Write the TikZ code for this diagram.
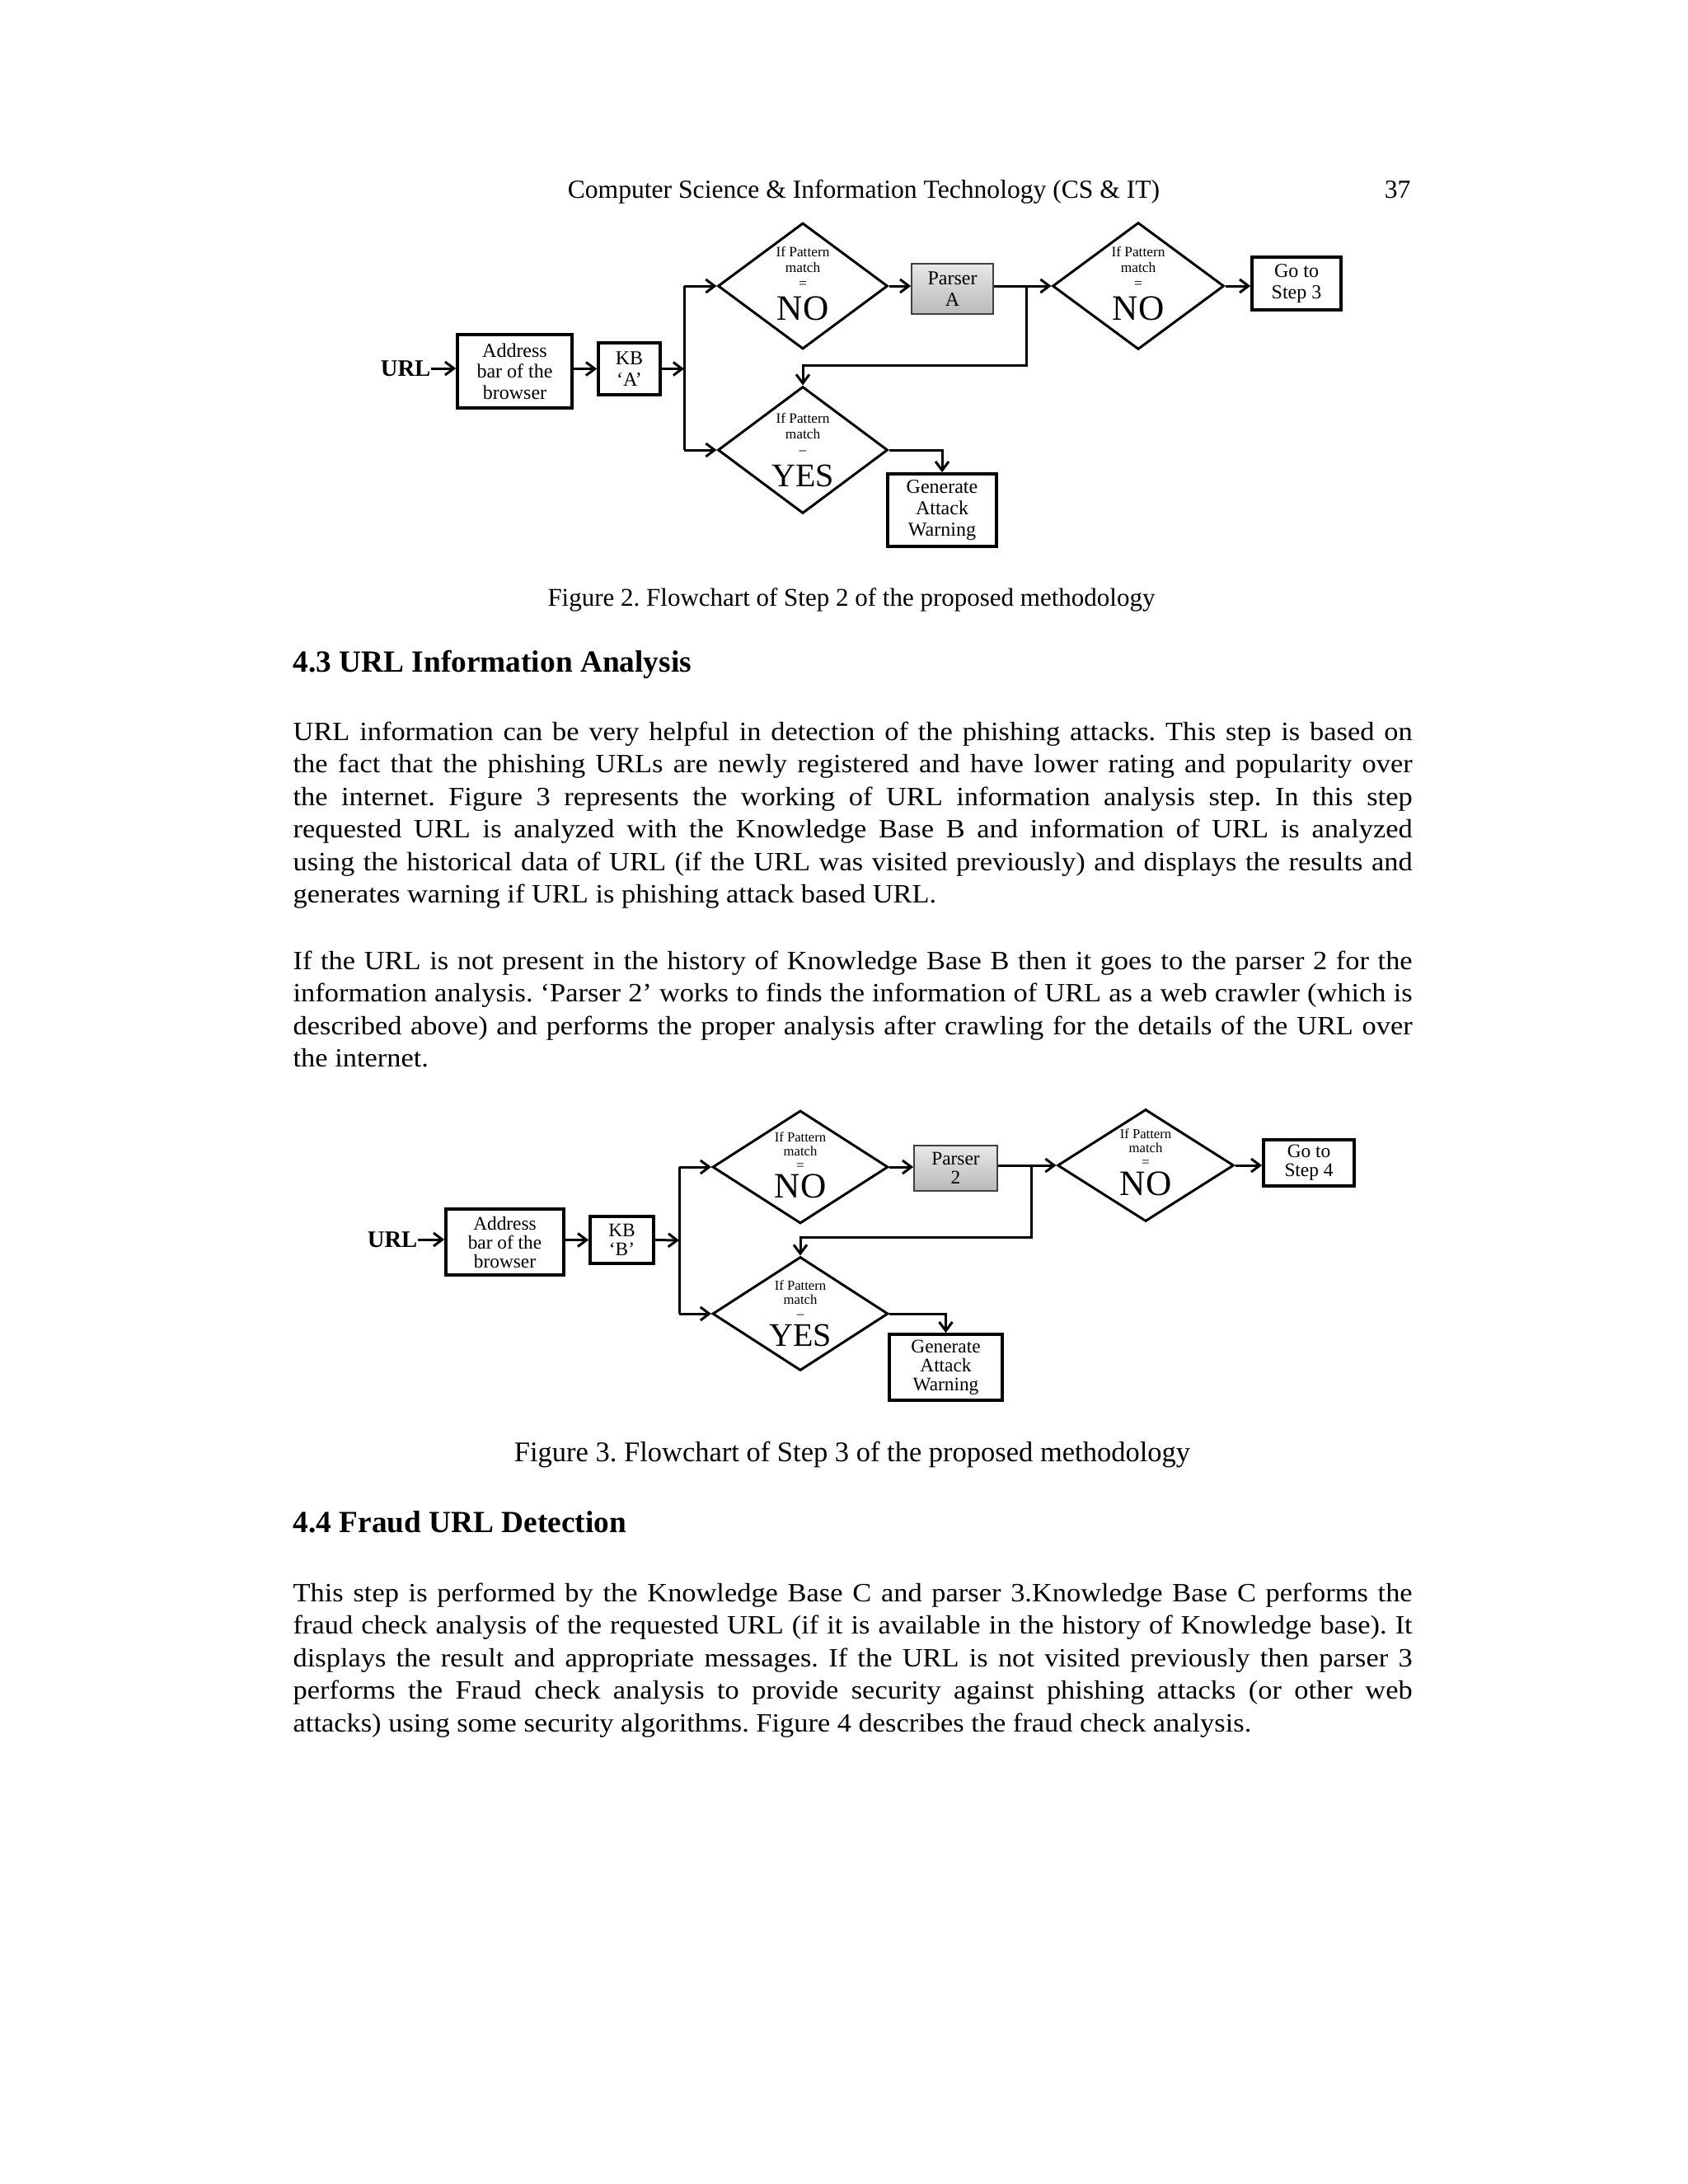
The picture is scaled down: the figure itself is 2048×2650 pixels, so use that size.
\documentclass[tikz,border=0pt]{standalone}
\usepackage{fontspec}
\setmainfont{Liberation Serif}
\newfontfamily\bodyfont{Liberation Serif}[FakeStretch=1.075]
\usetikzlibrary{shapes.geometric,arrows.meta,calc}
\begin{document}
\frenchspacing
\begin{tikzpicture}[x=0.3pt,y=-0.3pt,
  bodyline/.style={anchor=base west,inner sep=0pt,font=\bodyfont\fontsize{9.6}{11.85}\selectfont\frenchspacing},
  heading/.style={anchor=base west,inner sep=0pt,font=\bfseries\fontsize{11.2}{13}\selectfont},
  caption/.style={anchor=base,inner sep=0pt},
  boxA/.style={draw,line width=1.1pt,inner sep=0pt,align=center,font=\fontsize{7.2}{7.7}\selectfont},
  boxB/.style={draw,line width=1.1pt,inner sep=0pt,align=center,font=\fontsize{7}{6.9}\selectfont},
  parserbox/.style={draw=black!75,line width=0.5pt,top color=gray!18,bottom color=gray!55,inner sep=0pt,align=center},
  dia/.style={draw,diamond,line width=0.9pt,inner sep=0pt},
  smallA/.style={align=center,inner sep=0pt,font=\fontsize{5.2}{5.7}\selectfont},
  smallB/.style={align=center,inner sep=0pt,font=\fontsize{5}{5.1}\selectfont},
  big/.style={anchor=base,inner sep=0pt,font=\fontsize{12}{13}\selectfont},
  bigno/.style={anchor=base,inner sep=0pt,font=\fontsize{13}{14}\selectfont},
  urltext/.style={inner sep=0pt,font=\bfseries\fontsize{8.6}{9}\selectfont},
  ln/.style={line width=0.9pt},
  arr/.style={line width=0.9pt,-{Straight Barb[length=3.2pt,width=4.8pt,line width=0.9pt]}}]

\path[use as bounding box,fill=white] (0,0) rectangle (2048,2650);

% ---------- header ----------
\node[caption,font=\fontsize{9.48}{11}\selectfont] (hdr) at (1048,240) {Computer Science \& Information Technology (CS \& IT)};
\node[anchor=base east,inner sep=0pt,font=\fontsize{9.48}{11}\selectfont] (pg) at (1712,240) {37};

% ---------- Figure 2 ----------
\node[urltext,anchor=east] (url2) at (523,447) {URL};
\node[boxA,minimum width=41.7pt,minimum height=26.7pt] (addr2) at (624.5,450.5) {Address\\bar of the\\browser};
\node[boxA,minimum width=22.5pt,minimum height=18.9pt] (kb2) at (763.5,447.5) {KB\\‘A’};
\coordinate (j2) at (830,447.5);
\node[dia,minimum width=61.8pt,minimum height=45.9pt] (d21) at (974,347) {};
\node[dia,minimum width=61.8pt,minimum height=46.2pt] (d22) at (974,546) {};
\node[parserbox,font=\fontsize{7.2}{7.7}\selectfont,minimum width=29.7pt,minimum height=18.3pt] (pa) at (1155.5,350.5) {Parser\\A};
\node[dia,minimum width=62.4pt,minimum height=46.2pt] (d23) at (1381,347) {};
\node[boxA,minimum width=32.4pt,minimum height=19.2pt] (go3) at (1573,344) {Go to\\Step 3};
\node[boxA,minimum width=39.6pt,minimum height=26.4pt] (gen2) at (1143,619) {Generate\\Attack\\Warning};
\coordinate (b2) at (1245,347);
\coordinate (fb2) at (1245,443);

\node[smallA] (d21s) at (974,324) {If Pattern\\match\\=};
\node[bigno] (d21b) at (974,388) {NO};
\node[smallA] (d22s) at (974,526) {If Pattern\\match\\–};
\node[big] (d22b) at (974,590) {YES};
\node[smallA] (d23s) at (1381,324) {If Pattern\\match\\=};
\node[bigno] (d23b) at (1381,388) {NO};

\draw[arr] (url2.east) -- (url2.east -| addr2.west);
\draw[arr] (addr2.east |- kb2.west) -- (kb2.west);
\draw[arr] (kb2.east) -- (j2);
\draw[ln] (j2 |- d21.west) -- (j2 |- d22.west);
\draw[arr] (j2 |- d21.west) -- (d21.west);
\draw[arr] (j2 |- d22.west) -- (d22.west);
\draw[arr] (d21.east) -- (d21.east -| pa.west);
\draw[arr] (pa.east |- d23.west) -- (d23.west);
\draw[arr] (b2) -- (fb2) -| (d22.north);
\draw[arr] (d23.east) -- (d23.east -| go3.west);
\draw[arr] (d22.east) -| (gen2.north);

\node[caption,font=\fontsize{9.3}{11}\selectfont] (cap2) at (1033,735) {Figure 2. Flowchart of Step 2 of the proposed methodology};

% ---------- Section 4.3 ----------
\node[heading] (h43) at (355,815) {4.3 URL Information Analysis};

\node[bodyline] (a1) at (355,898) {\makebox[407.4pt][s]{URL information can be very helpful in detection of the phishing attacks. This step is based on}};
\node[bodyline] (a2) at (355,937.5) {\makebox[407.4pt][s]{the fact that the phishing URLs are newly registered and have lower rating and popularity over}};
\node[bodyline] (a3) at (355,977) {\makebox[407.4pt][s]{the internet. Figure 3 represents the working of URL information analysis step. In this step}};
\node[bodyline] (a4) at (355,1016.5) {\makebox[407.4pt][s]{requested URL is analyzed with the Knowledge Base B and information of URL is analyzed}};
\node[bodyline] (a5) at (355,1056) {\makebox[407.4pt][s]{using the historical data of URL (if the URL was visited previously) and displays the results and}};
\node[bodyline] (a6) at (355,1095.5) {generates warning if URL is phishing attack based URL.};

\node[bodyline] (b1) at (355,1176) {\makebox[407.4pt][s]{If the URL is not present in the history of Knowledge Base B then it goes to the parser 2 for the}};
\node[bodyline] (b2t) at (355,1215.5) {\makebox[407.4pt][s]{information analysis. ‘Parser 2’ works to finds the information of URL as a web crawler (which is}};
\node[bodyline] (b3t) at (355,1255) {\makebox[407.4pt][s]{described above) and performs the proper analysis after crawling for the details of the URL over}};
\node[bodyline] (b4t) at (355,1294.5) {the internet.};

% ---------- Figure 3 ----------
\node[urltext,anchor=east] (url3) at (507,1504) {URL};
\node[boxB,minimum width=42.9pt,minimum height=24pt] (addr3) at (612.5,1507) {Address\\bar of the\\browser};
\node[boxB,minimum width=23.1pt,minimum height=17.1pt] (kb3) at (754.5,1504.5) {KB\\‘B’};
\coordinate (j3) at (824,1505);
\node[dia,minimum width=63.9pt,minimum height=41.1pt] (d31) at (971,1416) {};
\node[dia,minimum width=63.9pt,minimum height=41.4pt] (d32) at (971,1594) {};
\node[parserbox,font=\fontsize{7}{6.9}\selectfont,minimum width=30.3pt,minimum height=16.5pt] (p2) at (1159.5,1417.5) {Parser\\2};
\node[dia,minimum width=64.2pt,minimum height=40.8pt] (d33) at (1390,1414) {};
\node[boxB,minimum width=33pt,minimum height=16.8pt] (go4) at (1588,1411) {Go to\\Step 4};
\node[boxB,minimum width=41.1pt,minimum height=24pt] (gen3) at (1147.5,1659) {Generate\\Attack\\Warning};
\coordinate (b3) at (1251,1414);
\coordinate (fb3) at (1251,1501);

\node[smallB] (d31s) at (971,1397) {If Pattern\\match\\=};
\node[bigno] (d31b) at (971,1453) {NO};
\node[smallB] (d32s) at (971,1577) {If Pattern\\match\\–};
\node[big] (d32b) at (971,1633) {YES};
\node[smallB] (d33s) at (1390,1393) {If Pattern\\match\\=};
\node[bigno] (d33b) at (1390,1450) {NO};

\draw[arr] (url3.east) -- (url3.east -| addr3.west);
\draw[arr] (addr3.east |- kb3.west) -- (kb3.west);
\draw[arr] (kb3.east) -- (j3);
\draw[ln] (j3 |- d31.west) -- (j3 |- d32.west);
\draw[arr] (j3 |- d31.west) -- (d31.west);
\draw[arr] (j3 |- d32.west) -- (d32.west);
\draw[arr] (d31.east) -- (d31.east -| p2.west);
\draw[arr] (p2.east |- d33.west) -- (d33.west);
\draw[arr] (b3) -- (fb3) -| (d32.north);
\draw[arr] (d33.east) -- (d33.east -| go4.west);
\draw[arr] (d32.east) -| (gen3.north);

\node[caption,font=\fontsize{10.35}{12}\selectfont] (cap3) at (1034,1773) {Figure 3. Flowchart of Step 3 of the proposed methodology};

% ---------- Section 4.4 ----------
\node[heading] (h44) at (355,1859) {4.4 Fraud URL Detection};

\node[bodyline] (c1) at (355,1943) {\makebox[407.4pt][s]{This step is performed by the Knowledge Base C and parser 3.Knowledge Base C performs the}};
\node[bodyline] (c2) at (355,1982.5) {\makebox[407.4pt][s]{fraud check analysis of the requested URL (if it is available in the history of Knowledge base). It}};
\node[bodyline] (c3) at (355,2022) {\makebox[407.4pt][s]{displays the result and appropriate messages. If the URL is not visited previously then parser 3}};
\node[bodyline] (c4) at (355,2061.5) {\makebox[407.4pt][s]{performs the Fraud check analysis to provide security against phishing attacks (or other web}};
\node[bodyline] (c5) at (355,2101) {attacks) using some security algorithms. Figure 4 describes the fraud check analysis.};
\end{tikzpicture}
\end{document}
